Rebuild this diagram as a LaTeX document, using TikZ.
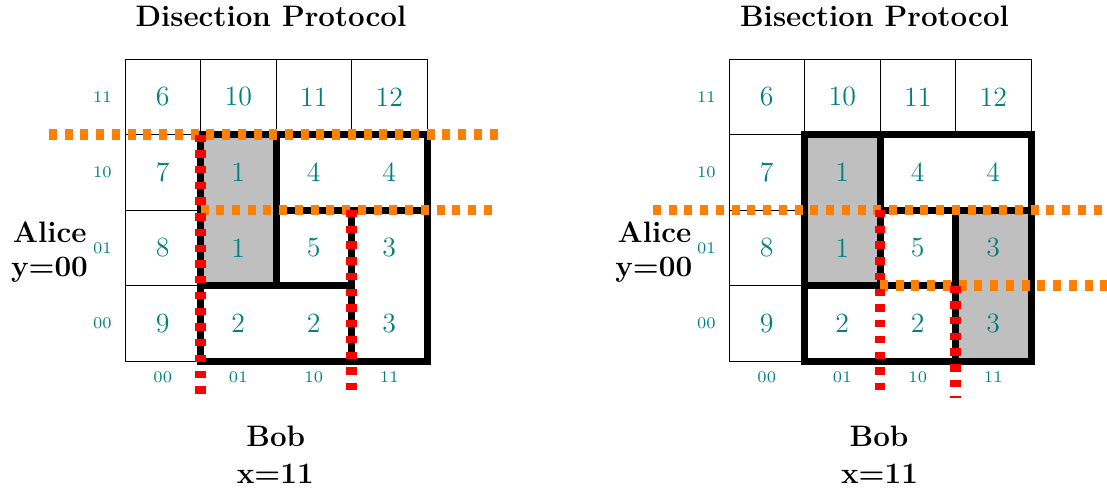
\documentclass[tikz,border=0pt]{standalone}
\begin{document}
\begin{tikzpicture}[x=0.75pt,y=-0.75pt,
  thinline/.style={line width=0.6pt,draw=black},
  thickline/.style={line width=5.25pt,draw=black,line cap=rect,line join=miter},
  orangedash/.style={line width=8pt,draw=orange,dash pattern=on 6pt off 5.8pt},
  reddash/.style={line width=8pt,draw=red,dash pattern=on 5.5pt off 6.3pt},
  grayfill/.style={fill=lightgray,draw=none},
  bignum/.style={text=teal,font=\Large,scale=1.45,inner sep=0pt},
  smallnum/.style={text=teal,font=\scriptsize,scale=1.75,inner sep=0pt},
  bold/.style={font=\fontsize{22.2}{26}\selectfont\bfseries,anchor=base,inner sep=0pt}]
\useasboundingbox (0,0) rectangle (1107,490);

% ---------- titles and player labels ----------
\node[bold] (t1) at (271,26) {Disection Protocol};
\node[bold] (t2) at (874.5,26) {Bisection Protocol};
\node[bold] (a1) at (49.7,242.7) {Alice};
\node[bold] (y1) at (49.5,276.7) {y=00};
\node[bold] (a2) at (654.5,242.7) {Alice};
\node[bold] (y2) at (653.8,276.7) {y=00};
\node[bold] (b1) at (275.8,446.7) {Bob};
\node[bold] (x1) at (275.3,483.3) {x=11};
\node[bold] (b2) at (879,446.7) {Bob};
\node[bold] (x2) at (879.5,483.3) {x=11};

% ---------- left: Disection ----------
\begin{scope}[shift={(125,59)},x=56.625pt,y=-56.625pt]
  \fill[grayfill] (1,1) rectangle (2,3);
  \foreach \i in {0,1,2,3}{ \draw[thinline] (\i,0) rectangle (\i+1,1); }
  \foreach \j in {1,2,3}{ \draw[thinline] (0,\j) rectangle (1,\j+1); }
  \draw[thickline] (1,1) rectangle (4,4);
  \draw[thickline] (2,1) -- (2,3);
  \draw[thickline] (1,3) -- (3,3);
  \draw[thickline] (2,2) -- (4,2);
  \draw[thickline] (3,2) -- (3,4);
  \draw[orangedash] (-1.007,1) -- (5.007,1);
  \draw[orangedash] (1,2) -- (4.9,2);
  \draw[reddash] (1,1) -- (1,4.477);
  \draw[reddash] (3,2) -- (3,4.424);
  \foreach \r/\a/\b/\c/\d in {0/6/10/11/12,1/7/1/4/4,2/8/1/5/3,3/9/2/2/3}{
    \node[bignum] (L\r a) at (0.5,\r+0.5) {\a};
    \node[bignum] (L\r b) at (1.5,\r+0.5) {\b};
    \node[bignum] (L\r c) at (2.5,\r+0.5) {\c};
    \node[bignum] (L\r d) at (3.5,\r+0.5) {\d};
  }
  \foreach \r/\t in {0/11,1/10,2/01,3/00}{
    \node[smallnum] (LR\r) at (-0.3,\r+0.5) {\t};
  }
  \foreach \c/\t in {0/00,1/01,2/10,3/11}{
    \node[smallnum] (LC\c) at (\c+0.5,4.21) {\t};
  }
\end{scope}

% ---------- right: Bisection ----------
\begin{scope}[shift={(729,59)},x=56.625pt,y=-56.625pt]
  \fill[grayfill] (1,1) rectangle (2,3);
  \fill[grayfill] (3,2) rectangle (4,4);
  \foreach \i in {0,1,2,3}{ \draw[thinline] (\i,0) rectangle (\i+1,1); }
  \foreach \j in {1,2,3}{ \draw[thinline] (0,\j) rectangle (1,\j+1); }
  \draw[thickline] (1,1) rectangle (4,4);
  \draw[thickline] (2,1) -- (2,3);
  \draw[thickline] (2,2) -- (4,2);
  \draw[thickline] (3,2) -- (3,4);
  \draw[thickline] (1,3) -- (3,3);
  \draw[orangedash] (-1.007,2) -- (5.007,2);
  \draw[orangedash] (2,3) -- (5.007,3);
  \draw[reddash] (2,2) -- (2,4.424);
  \draw[reddash] (3,3) -- (3,4.49);
  \foreach \r/\a/\b/\c/\d in {0/6/10/11/12,1/7/1/4/4,2/8/1/5/3,3/9/2/2/3}{
    \node[bignum] (R\r a) at (0.5,\r+0.5) {\a};
    \node[bignum] (R\r b) at (1.5,\r+0.5) {\b};
    \node[bignum] (R\r c) at (2.5,\r+0.5) {\c};
    \node[bignum] (R\r d) at (3.5,\r+0.5) {\d};
  }
  \foreach \r/\t in {0/11,1/10,2/01,3/00}{
    \node[smallnum] (RR\r) at (-0.3,\r+0.5) {\t};
  }
  \foreach \c/\t in {0/00,1/01,2/10,3/11}{
    \node[smallnum] (RC\c) at (\c+0.5,4.21) {\t};
  }
\end{scope}
\end{tikzpicture}
\end{document}
